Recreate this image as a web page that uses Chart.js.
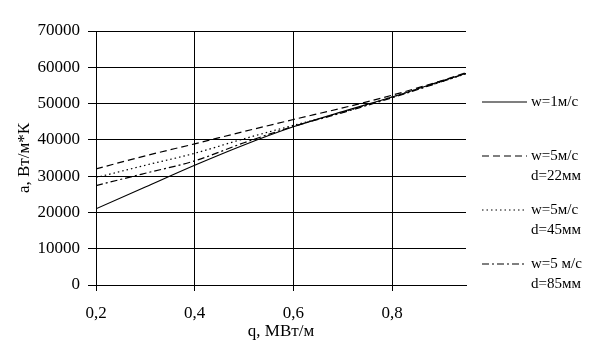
<!DOCTYPE html>
<html>
<head>
<meta charset="utf-8">
<script src="https://cdn.jsdelivr.net/npm/chart.js@4/dist/chart.umd.min.js"></script>
<style>
html,body{margin:0;padding:0;background:#fff;}
#wrap{width:605px;height:353px;position:relative;}
</style>
</head>
<body>
<div id="wrap"><canvas id="c" width="605" height="353"></canvas></div>
<script>
const qValues = [0.2, 0.3, 0.4, 0.5, 0.6, 0.7, 0.8, 0.9, 0.95];
const w1 = [21000, 27000, 33000, 38600, 43600, 47800, 51800, 56200, 58300];
const w5d22 = [32000, 35600, 38900, 42300, 45600, 48800, 52300, 56300, 58500];
const w5d45 = [29600, 33000, 36300, 40300, 44000, 47600, 51800, 56000, 58200];
const w5d85 = [27400, 30800, 34200, 39200, 43700, 47500, 51600, 56000, 58300];
const xTicks = [0.2, 0.4, 0.6, 0.8];
const yTicks = [0, 10000, 20000, 30000, 40000, 50000, 60000, 70000];
const legendLabels = [["w=1м/с"], ["w=5м/с", "d=22мм"], ["w=5м/с", "d=45мм"], ["w=5 м/с", "d=85мм"]];
const xTitle = "q, МВт/м";
const yTitle = "а, Вт/м*К";

const series = [w1, w5d22, w5d45, w5d85];
const dashes = [[], [7, 4], [1.5, 3], [7, 3, 2, 3]];
const FONT = "'Liberation Serif', 'DejaVu Serif', serif";

const datasets = series.map((s, i) => ({
  label: legendLabels[i].join(' '),
  data: s.map((v, k) => ({x: qValues[k], y: v})),
  borderColor: '#000',
  borderWidth: 1.2,
  borderDash: dashes[i],
  pointRadius: 0,
  fill: false,
  tension: 0.4,
  cubicInterpolationMode: 'monotone'
}));

const legendPlugin = {
  id: 'customLegend',
  afterDraw(chart) {
    const ctx = chart.ctx;
    const ys = [102, 156, 210, 264];
    ctx.save();
    ctx.font = "15px " + FONT;
    ctx.fillStyle = '#000';
    ctx.textBaseline = 'middle';
    ctx.textAlign = 'left';
    legendLabels.forEach((lab, i) => {
      const y = ys[i];
      ctx.beginPath();
      ctx.setLineDash(dashes[i]);
      ctx.lineWidth = 1.2;
      ctx.strokeStyle = '#000';
      ctx.moveTo(482, y);
      ctx.lineTo(527, y);
      ctx.stroke();
      ctx.setLineDash([]);
      lab.forEach((t, j) => ctx.fillText(t, 531, y + j * 20));
    });
    ctx.restore();
  }
};

new Chart(document.getElementById('c'), {
  type: 'line',
  data: { datasets },
  plugins: [legendPlugin],
  options: {
    responsive: false,
    animation: false,
    layout: { padding: { left: 0, right: 139, top: 31, bottom: 0 } },
    plugins: { legend: { display: false }, tooltip: { enabled: false } },
    scales: {
      x: {
        type: 'linear',
        min: 0.2,
        max: 0.95,
        afterBuildTicks(scale) { scale.ticks = xTicks.map(v => ({value: v})); },
        afterFit(scale) { scale.height = 68; },
        border: { display: true, color: '#000', width: 1 },
        grid: { color: '#000', lineWidth: 1, drawTicks: true, tickLength: 6, tickColor: '#000' },
        ticks: {
          color: '#000',
          font: { family: FONT, size: 17 },
          padding: 12,
          maxRotation: 0,
          callback: v => String(v).replace('.', ',')
        },
        title: {
          display: true,
          text: xTitle,
          color: '#000',
          font: { family: FONT, size: 17 },
          padding: { top: 0, bottom: 11 }
        }
      },
      y: {
        type: 'linear',
        min: 0,
        max: 70000,
        afterBuildTicks(scale) { scale.ticks = yTicks.map(v => ({value: v})); },
        afterFit(scale) { scale.width = 96; },
        border: { display: true, color: '#000', width: 1 },
        grid: { color: '#000', lineWidth: 1, drawTicks: true, tickLength: 8, tickColor: '#000' },
        ticks: {
          color: '#000',
          font: { family: FONT, size: 17 },
          padding: 8,
          callback: v => String(v)
        },
        title: {
          display: true,
          text: yTitle,
          color: '#000',
          font: { family: FONT, size: 17 },
          padding: { top: 14, bottom: 0 }
        }
      }
    }
  }
});
</script>
</body>
</html>
